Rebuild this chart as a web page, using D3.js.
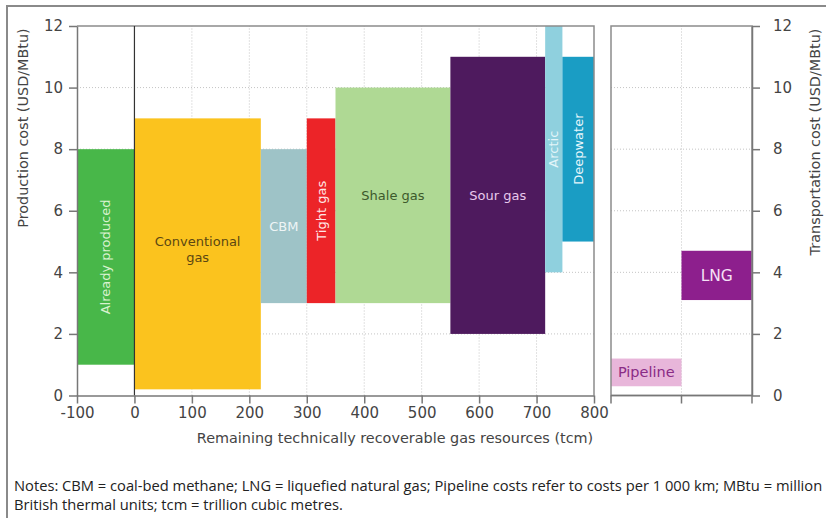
<!DOCTYPE html>
<html>
<head>
<meta charset="utf-8">
<script src="https://cdn.jsdelivr.net/npm/d3@7"></script>
<style>
  body { margin: 0; background: #fff; }
  svg { display: block; font-family: "DejaVu Sans", sans-serif; }
</style>
</head>
<body>
<svg id="chart" width="826" height="518"></svg>
<script>
// resource supply curve (tcm on x, USD/MBtu on y)
const resources = ["Already produced", "Conventional gas", "CBM", "Tight gas", "Shale gas", "Sour gas", "Arctic", "Deepwater"];
const resStart  = [-100, 0, 220, 300, 350, 550, 715, 745];
const resEnd    = [0, 220, 300, 350, 550, 715, 745, 800];
const costLow   = [1, 0.2, 3, 3, 3, 2, 4, 5];
const costHigh  = [8, 9, 8, 9, 10, 11, 12, 11];

// transport costs
const transport  = ["Pipeline", "LNG"];
const transLow   = [0.3, 3.1];
const transHigh  = [1.2, 4.7];

const xTicks = [-100, 0, 100, 200, 300, 400, 500, 600, 700, 800];
const yTicks = [0, 2, 4, 6, 8, 10, 12];

const notes = [
  "Notes: CBM = coal-bed methane; LNG = liquefied natural gas; Pipeline costs refer to costs per 1 000 km; MBtu = million",
  "British thermal units; tcm = trillion cubic metres."
];

// looks
const fill = {
  "Already produced": "#48b749", "Conventional gas": "#fbc31e", "CBM": "#9ec3c7",
  "Tight gas": "#ec2428", "Shale gas": "#afd994", "Sour gas": "#4e1a5e",
  "Arctic": "#8fd0de", "Deepwater": "#1a9dc4", "Pipeline": "#e8b6da", "LNG": "#8d1f8d"
};
const labelColor = {
  "Already produced": "#d9f2d0", "Conventional gas": "#5b4712", "CBM": "#eef5f6",
  "Tight gas": "#ffe6e6", "Shale gas": "#3d5a2c", "Sour gas": "#e8c9ec",
  "Arctic": "#e3f5f9", "Deepwater": "#e6f6fb", "Pipeline": "#8a2b86", "LNG": "#f5e0f5"
};
const labelSize = { "Pipeline": 14.5, "LNG": 15.5 };
const vertical = ["Already produced", "Tight gas", "Arctic", "Deepwater"];

const svg = d3.select("#chart");

const x  = d3.scaleLinear().domain([-100, 800]).range([77, 594]);
const y  = d3.scaleLinear().domain([0, 12]).range([395.5, 26]);
const xt = d3.scaleBand().domain(transport).range([611, 752]).padding(0);

// outer frame
svg.append("path")
  .attr("d", "M7,518V6H826")
  .attr("fill", "none").attr("stroke", "#8a8a8a").attr("stroke-width", 2);

// grid
const grid = svg.append("g")
  .attr("stroke", "#c4c4c4").attr("stroke-dasharray", "1,2").attr("stroke-width", 1);
yTicks.filter(v => v > 0 && v < 12).forEach(v => {
  grid.append("line").attr("x1", x(-100)).attr("x2", x(800)).attr("y1", y(v)).attr("y2", y(v));
  grid.append("line").attr("x1", xt.range()[0]).attr("x2", xt.range()[1]).attr("y1", y(v)).attr("y2", y(v));
});
xTicks.filter(v => v > 0 && v < 800).forEach(v => {
  grid.append("line").attr("x1", x(v)).attr("x2", x(v)).attr("y1", y(0)).attr("y2", y(12));
});
grid.append("line").attr("x1", xt("LNG")).attr("x2", xt("LNG")).attr("y1", y(0)).attr("y2", y(12));

// resource blocks
const res = resources.map((name, i) => ({
  name, x0: resStart[i], x1: resEnd[i], y0: costLow[i], y1: costHigh[i]
}));

svg.append("g").selectAll("rect")
  .data(res).enter().append("rect")
  .attr("x", d => x(d.x0))
  .attr("width", d => x(d.x1) - x(d.x0))
  .attr("y", d => y(d.y1))
  .attr("height", d => y(d.y0) - y(d.y1))
  .attr("fill", d => fill[d.name]);

// transport blocks
const tr = transport.map((name, i) => ({ name, y0: transLow[i], y1: transHigh[i] }));
svg.append("g").selectAll("rect")
  .data(tr).enter().append("rect")
  .attr("x", d => xt(d.name))
  .attr("width", xt.bandwidth())
  .attr("y", d => y(d.y1))
  .attr("height", d => y(d.y0) - y(d.y1))
  .attr("fill", d => fill[d.name]);

// block labels
const labels = svg.append("g").attr("font-size", 13).attr("text-anchor", "middle");
res.forEach(d => {
  const cx = (x(d.x0) + x(d.x1)) / 2;
  const cy = (y(d.y0) + y(d.y1)) / 2;
  const t = labels.append("text").attr("fill", labelColor[d.name]);
  if (vertical.includes(d.name)) {
    t.attr("transform", `translate(${cx},${cy}) rotate(-90)`).attr("dy", "0.35em").text(d.name);
  } else if (d.name === "Conventional gas") {
    t.attr("x", cx).attr("y", cy - 8);
    t.append("tspan").attr("x", cx).attr("dy", "0").text("Conventional");
    t.append("tspan").attr("x", cx).attr("dy", "1.25em").text("gas");
  } else {
    t.attr("x", cx).attr("y", cy).attr("dy", "0.35em").text(d.name);
  }
});
tr.forEach(d => {
  labels.append("text")
    .attr("x", xt(d.name) + xt.bandwidth() / 2)
    .attr("y", (y(d.y0) + y(d.y1)) / 2)
    .attr("dy", "0.35em")
    .attr("font-size", labelSize[d.name])
    .attr("fill", labelColor[d.name])
    .text(d.name);
});

// panel frames
const frame = svg.append("g").attr("fill", "none").attr("stroke", "#8c8c8c").attr("stroke-width", 1.5);
frame.append("path").attr("d", `M${x(-100)},${y(12)}H${x(800)}V${y(0)}`);
frame.append("rect")
  .attr("x", xt.range()[0]).attr("y", y(12))
  .attr("width", xt.range()[1] - xt.range()[0]).attr("height", y(0) - y(12));

// zero line
svg.append("line")
  .attr("x1", x(0)).attr("x2", x(0)).attr("y1", y(0)).attr("y2", y(12))
  .attr("stroke", "#333").attr("stroke-width", 1.2);

// axes
function styleAxis(g) {
  g.select(".domain").attr("stroke", "#777").attr("stroke-width", 1.5);
  g.selectAll(".tick line").attr("stroke", "#777").attr("stroke-width", 1.5);
  g.selectAll(".tick text").attr("fill", "#444").attr("font-size", 15)
    .attr("font-family", "DejaVu Sans, sans-serif");
}
const plain = d => String(d);   // keep the ascii hyphen on -100

svg.append("g")
  .attr("transform", `translate(0,${y(0)})`)
  .call(d3.axisBottom(x).tickValues(xTicks).tickFormat(plain).tickSize(8).tickPadding(4).tickSizeOuter(0))
  .call(styleAxis);

svg.append("g")
  .attr("transform", `translate(${x(-100)},0)`)
  .call(d3.axisLeft(y).tickValues(yTicks).tickFormat(plain).tickSize(8).tickPadding(6).tickSizeOuter(0))
  .call(styleAxis);

const tEdges = [xt.range()[0], xt("LNG"), xt.range()[1]];
const tAxis = svg.append("g").attr("stroke", "#777").attr("stroke-width", 1.5);
tAxis.append("line").attr("x1", tEdges[0]).attr("x2", tEdges[2]).attr("y1", y(0)).attr("y2", y(0));
tEdges.forEach(e => {
  tAxis.append("line").attr("x1", e).attr("x2", e).attr("y1", y(0)).attr("y2", y(0) + 8);
});

svg.append("g")
  .attr("transform", `translate(${xt.range()[1]},0)`)
  .call(d3.axisRight(y).tickValues(yTicks).tickFormat(plain).tickSize(8).tickPadding(13).tickSizeOuter(0))
  .call(styleAxis);

// axis titles
svg.append("text")
  .attr("x", 395).attr("y", 443)
  .attr("text-anchor", "middle").attr("font-size", 14.4).attr("fill", "#444")
  .text("Remaining technically recoverable gas resources (tcm)");

svg.append("text")
  .attr("transform", "translate(28,128) rotate(-90)")
  .attr("text-anchor", "middle").attr("font-size", 14.4).attr("fill", "#444")
  .text("Production cost (USD/MBtu)");

svg.append("text")
  .attr("transform", "translate(820,142) rotate(-90)")
  .attr("text-anchor", "middle").attr("font-size", 14.4).attr("fill", "#444")
  .text("Transportation cost (USD/MBtu)");

// notes
svg.append("g")
  .attr("font-family", "Open Sans, sans-serif").attr("font-size", 14.7).attr("fill", "#222")
  .selectAll("text").data(notes).enter().append("text")
  .attr("x", 14).attr("y", (d, i) => 491 + i * 19)
  .text(d => d);
</script>
</body>
</html>
